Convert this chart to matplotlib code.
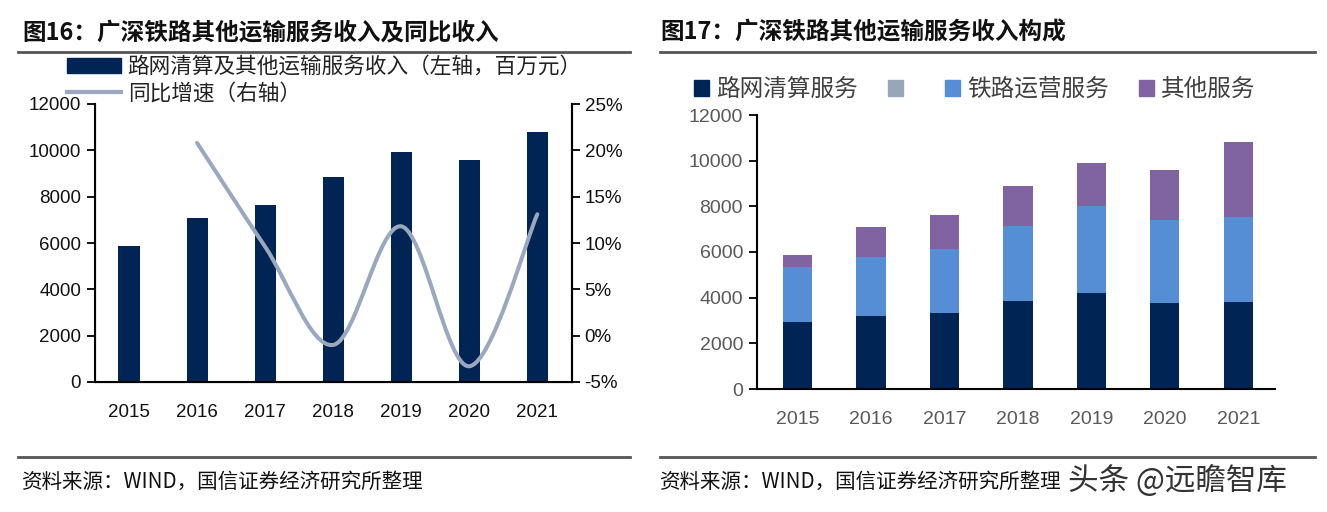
import numpy as np
import matplotlib
matplotlib.use("Agg")
import matplotlib.pyplot as plt
from matplotlib.lines import Line2D
from matplotlib.patches import Patch, PathPatch
from matplotlib.path import Path
from matplotlib.ticker import FuncFormatter

years = ["2015", "2016", "2017", "2018", "2019", "2020", "2021"]
# fig 16: total revenue (left axis, mn yuan) and yoy growth (right axis, %)
revenue = [5870, 7090, 7640, 8860, 9910, 9580, 10790]
growth = [np.nan, 20.8, 9.6, -1.0, 11.8, -3.3, 13.1]
# fig 17: breakdown
clearing = [2940, 3190, 3310, 3860, 4200, 3760, 3790]
rail_ops = [2390, 2605, 2825, 3295, 3805, 3645, 3760]
other = [525, 1303, 1507, 1727, 1888, 2166, 3264]

NAVY = "#002554"
LINE = "#9AA8BF"
BLUE = "#558ED5"
PURPLE = "#8064A2"
GREY = "#98A6B8"
CJK = ["Noto Sans CJK SC", "DejaVu Sans"]
NUM = "Liberation Sans"

W, H = 1327, 512
fig = plt.figure(figsize=(W / 100, H / 100), dpi=100)


def px(x, y):
    return x / W, 1 - y / H


def hline(x0, x1, y, lw=2.0, color="#555555"):
    (a, b), (c, d) = px(x0, y), px(x1, y)
    fig.add_artist(Line2D([a, c], [b, d], color=color, lw=lw, transform=fig.transFigure))


def smooth_path(xs, ys):
    # Catmull-Rom style bezier through the points (like Excel's smoothed line)
    pts = np.column_stack([xs, ys])
    n = len(pts)
    verts = [pts[0]]
    codes = [Path.MOVETO]
    for i in range(n - 1):
        p0 = pts[i - 1] if i > 0 else pts[i]
        p1, p2 = pts[i], pts[i + 1]
        p3 = pts[i + 2] if i + 2 < n else pts[i + 1]
        verts += [p1 + (p2 - p0) / 6, p2 - (p3 - p1) / 6, p2]
        codes += [Path.CURVE4] * 3
    return Path(verts, codes)


# ---------- left: fig 16 ----------
x = np.arange(len(years))
ax1 = fig.add_axes([95 / W, 1 - 382 / H, 477 / W, 278 / H])
ax1.bar(x, revenue, width=0.31, color=NAVY, zorder=2)
ax1.set_xlim(-0.5, 6.51)
ax1.set_ylim(0, 12000)
ax1.set_yticks(range(0, 12001, 2000))
ax1.set_xticks(x)
ax1.set_xticklabels(years)
ax1.spines["top"].set_visible(False)
for s in ["left", "bottom", "right"]:
    ax1.spines[s].set_linewidth(1.5)
ax1.tick_params(axis="y", direction="out", length=6, width=1.3, labelsize=13.5, pad=4)
ax1.tick_params(axis="x", length=0, labelsize=13.5, pad=16)
for lab in ax1.get_xticklabels() + ax1.get_yticklabels():
    lab.set_fontfamily(NUM)
    lab.set_color("#111111")

ax2 = ax1.twinx()
ax2.set_ylim(-5, 25)
ax2.set_yticks(range(-5, 26, 5))
ax2.yaxis.set_major_formatter(FuncFormatter(lambda v, p: f"{v:.0f}%"))
ax2.spines["top"].set_visible(False)
ax2.spines["right"].set_linewidth(1.5)
ax2.tick_params(axis="y", direction="out", length=6, width=1.3, labelsize=13.5, pad=3)
for lab in ax2.get_yticklabels():
    lab.set_fontfamily(NUM)
    lab.set_color("#111111")
gx = [xi for xi, g in zip(x, growth) if not np.isnan(g)]
gy = [g for g in growth if not np.isnan(g)]
ax2.add_patch(PathPatch(smooth_path(np.array(gx, float), np.array(gy, float)),
                        fill=False, edgecolor=LINE, lw=2.9, capstyle="round", zorder=3))

leg1 = fig.legend(
    handles=[Patch(color=NAVY), Line2D([], [], color=LINE, lw=3)],
    labels=["路网清算及其他运输服务收入（左轴，百万元）", "同比增速（右轴）"],
    loc="upper left", bbox_to_anchor=px(67, 56), frameon=False,
    prop={"family": CJK, "size": 15.6}, handlelength=2.5, handleheight=0.75,
    handletextpad=0.3, labelspacing=0.22, borderaxespad=0, borderpad=0)
for t in leg1.get_texts():
    t.set_color("#222222")

# ---------- right: fig 17 ----------
ax3 = fig.add_axes([757 / W, 1 - 389 / H, 518 / W, 274 / H])
ax3.bar(x, clearing, width=0.4, color=NAVY, zorder=2)
ax3.bar(x, [0] * len(x), width=0.4, color=GREY, zorder=2)
ax3.bar(x, rail_ops, width=0.4, bottom=clearing, color=BLUE, zorder=2)
ax3.bar(x, other, width=0.4, bottom=np.add(clearing, rail_ops), color=PURPLE, zorder=2)
ax3.set_xlim(-0.55, 6.5)
ax3.set_ylim(0, 12000)
ax3.set_yticks(range(0, 12001, 2000))
ax3.set_xticks(x)
ax3.set_xticklabels(years)
for s in ["top", "right"]:
    ax3.spines[s].set_visible(False)
for s in ["left", "bottom"]:
    ax3.spines[s].set_linewidth(1.5)
ax3.tick_params(axis="y", direction="out", length=6, width=1.3, labelsize=14, pad=4)
ax3.tick_params(axis="x", length=0, labelsize=14, pad=16)
for lab in ax3.get_xticklabels() + ax3.get_yticklabels():
    lab.set_fontfamily(NUM)
    lab.set_color("#595959")

leg3 = fig.legend(
    handles=[Patch(color=NAVY), Patch(color=GREY), Patch(color=BLUE), Patch(color=PURPLE)],
    labels=["路网清算服务", " ", "铁路运营服务", "其他服务"],
    loc="upper left", bbox_to_anchor=px(694, 78), frameon=False, ncol=4,
    prop={"family": CJK, "size": 17}, handlelength=0.65, handleheight=0.65,
    handletextpad=0.3, columnspacing=1.25, borderaxespad=0, borderpad=0)
for t in leg3.get_texts():
    t.set_color("#404040")

# ---------- titles, rules, sources ----------
fig.text(*px(22, 32), "图16：广深铁路其他运输服务收入及同比收入", family=CJK, size=17,
         weight="bold", va="center", ha="left", color="#111111")
fig.text(*px(660, 32), "图17：广深铁路其他运输服务收入构成", family=CJK, size=17,
         weight="bold", va="center", ha="left", color="#111111")
hline(18, 630, 52)
hline(660, 1315, 52)
hline(18, 630, 457)
hline(660, 1315, 457)
fig.text(*px(22, 482), "资料来源：WIND，国信证券经济研究所整理", family=CJK, size=14.8,
         va="center", ha="left", color="#111111")
fig.text(*px(660, 482), "资料来源：WIND，国信证券经济研究所整理", family=CJK, size=14.8,
         va="center", ha="left", color="#111111")
fig.text(*px(1068, 481), "头条 @远瞻智库", family=CJK, size=22,
         va="center", ha="left", color="#333333")

fig.savefig("out.png", dpi=100)
